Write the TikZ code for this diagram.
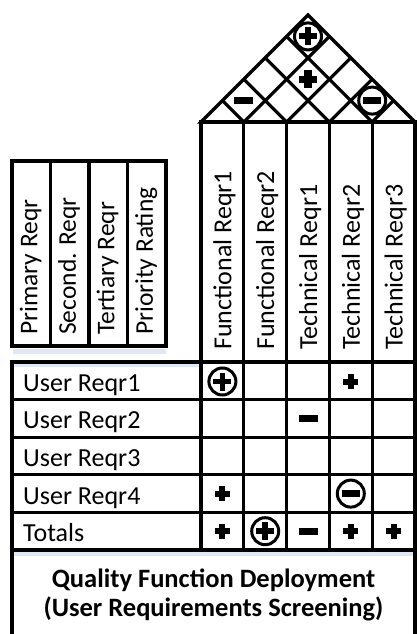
\documentclass[tikz,border=0pt]{standalone}
\usepackage{fontspec}
\setmainfont{Carlito}
\begin{document}
\begin{tikzpicture}[x=1pt,y=-1pt,
  grid/.style={draw=black,line width=3.2pt,line join=miter},
  shade/.style={fill={rgb,255:red,222;green,232;blue,246}},
  rowlbl/.style={font=\fontsize{26}{30}\selectfont,inner sep=0pt,anchor=base west},
  colhdr/.style={font=\fontsize{26}{30}\selectfont,inner sep=0pt,rotate=90,anchor=base west},
  lefthdr/.style={font=\fontsize{25.5}{30}\selectfont,inner sep=0pt,rotate=90,anchor=base west},
  titletext/.style={font=\bfseries\fontsize{26.5}{30}\selectfont,inner sep=0pt,anchor=base},
  plussym/.pic={\fill[black] (-3pt,-7.5pt) rectangle (3pt,7.5pt); \fill[black] (-7.5pt,-3pt) rectangle (7.5pt,3pt);},
  minussym/.pic={\fill[black] (-9.5pt,-3.5pt) rectangle (9.5pt,3.5pt);},
  cplussym/.pic={\draw[line width=3pt,fill=white] (0,0) circle (13.5pt); \fill[black] (-2.9pt,-9pt) rectangle (2.9pt,9pt); \fill[black] (-9pt,-2.9pt) rectangle (9pt,2.9pt);},
  cminussym/.pic={\draw[line width=3pt,fill=white] (0,0) circle (13.5pt); \fill[black] (-9pt,-3.2pt) rectangle (9pt,3.2pt);}
]
\useasboundingbox[fill=white] (0,0) rectangle (417,634);

% faint shadow bands
\fill[shade] (13,349) rectangle (166,354);
\fill[shade] (14,364) rectangle (199,367);
\fill[shade] (14,552) rectangle (413,556);

% roof
\draw[grid,fill=white] (201,122) -- (308,15) -- (415,122) -- cycle;
\foreach \k in {1,...,4} {
  \pgfmathsetmacro\bx{201+42.8*\k}
  \draw[grid] (\bx,122) -- ({(\bx+415)/2},{122-(415-\bx)/2});
  \draw[grid] (\bx,122) -- ({(\bx+201)/2},{122-(\bx-201)/2});
}

% column header block and matrix verticals
\draw[grid] (201,122) rectangle (415,550);
\foreach \k in {1,...,4} {
  \pgfmathsetmacro\bx{201+42.8*\k}
  \draw[grid] (\bx,122) -- (\bx,550);
}

% left header box
\draw[grid] (12,161) rectangle (166,346);
\foreach \x in {50.5,89,127.5} \draw[grid] (\x,161) -- (\x,346);

% rows box
\draw[grid] (12,634) -- (12,362) -- (415,362) -- (415,634);
\foreach \y in {399.6,437.2,474.8,512.4,550} \draw[grid] (12,\y) -- (415,\y);
\draw[grid] (201,362) -- (201,550);

% left header texts
\node[lefthdr] (h1) at (37.25,335) {Primary Reqr};
\node[lefthdr] (h2) at (75.75,335) {Second. Reqr};
\node[lefthdr] (h3) at (114.25,335) {Tertiary Reqr};
\node[lefthdr] (h4) at (152.75,335) {Priority Rating};

% column header texts
\node[colhdr] (c1) at (231.4,350) {Functional Reqr1};
\node[colhdr] (c2) at (274.2,350) {Functional Reqr2};
\node[colhdr] (c3) at (317.0,350) {Technical Reqr1};
\node[colhdr] (c4) at (359.8,350) {Technical Reqr2};
\node[colhdr] (c5) at (402.6,350) {Technical Reqr3};

% row labels
\node[rowlbl] (r1) at (23,391.3) {User Reqr1};
\node[rowlbl] (r2) at (23,428.9) {User Reqr2};
\node[rowlbl] (r3) at (23,466.5) {User Reqr3};
\node[rowlbl] (r4) at (23,504.1) {User Reqr4};
\node[rowlbl] (r5) at (23,541.7) {Totals};

% title
\node[titletext] (t1) at (213.5,587) {Quality Function Deployment};
\node[titletext] (t2) at (213.5,616) {(User Requirements Screening)};

% roof symbols
\pic at (308,36.4) {cplussym};
\pic[scale=1.2] at (308,79.2) {plussym};
\pic at (243.8,100.6) {minussym};
\pic at (372.2,100.6) {cminussym};

% matrix symbols
\pic at (222.4,381.5) {cplussym};
\pic at (350.8,381.5) {plussym};
\pic at (308.0,418.4) {minussym};
\pic at (222.4,493.6) {plussym};
\pic at (350.8,493.6) {cminussym};
\pic at (222.4,531.2) {plussym};
\pic at (265.2,531.2) {cplussym};
\pic at (308.0,531.2) {minussym};
\pic at (350.8,531.2) {plussym};
\pic at (393.6,531.2) {plussym};
\end{tikzpicture}
\end{document}
